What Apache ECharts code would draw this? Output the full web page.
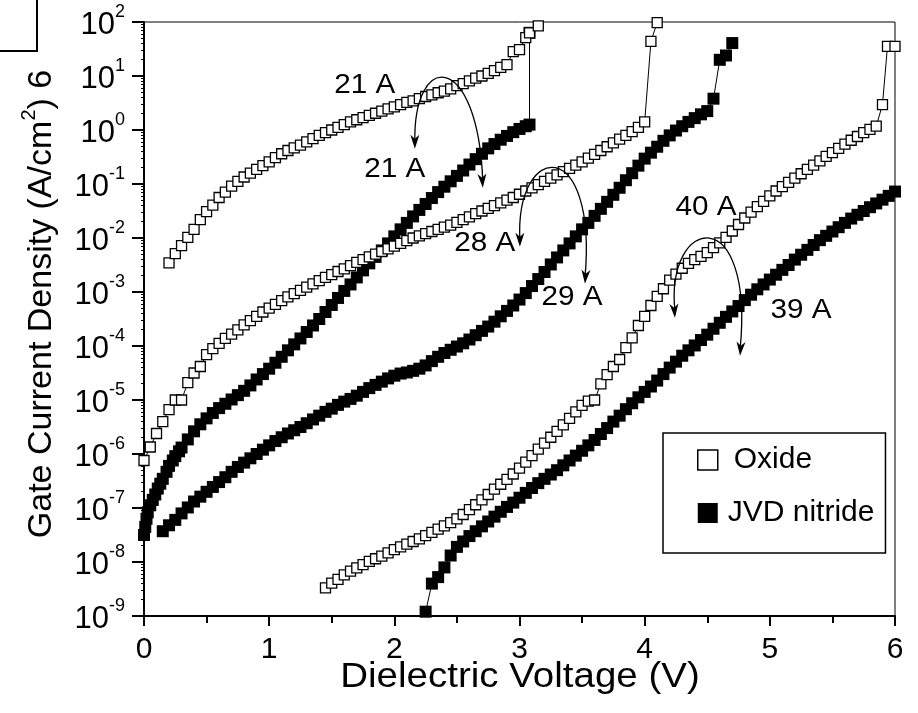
<!DOCTYPE html>
<html>
<head>
<meta charset="utf-8">
<script src="https://cdn.jsdelivr.net/npm/echarts@6/dist/echarts.min.js"></script>
<style>
html,body{margin:0;padding:0;background:#fff;}
#chart{width:918px;height:713px;}
</style>
</head>
<body>
<div id="chart"></div>
<script>
// Each point: [dielectric voltage (V), log10 of gate current density (A/cm^2)]
const oxide21A = [[0.20,-2.46],[0.25,-2.29],[0.30,-2.14],[0.35,-1.99],[0.40,-1.84],[0.45,-1.66],[0.50,-1.51],[0.55,-1.39],[0.60,-1.25],[0.65,-1.15],[0.70,-1.04],[0.75,-0.95],[0.80,-0.87],[0.85,-0.80],[0.90,-0.73],[0.95,-0.66],[1.00,-0.59],[1.05,-0.51],[1.10,-0.44],[1.15,-0.38],[1.20,-0.33],[1.25,-0.28],[1.30,-0.22],[1.35,-0.16],[1.40,-0.10],[1.45,-0.05],[1.50,0.00],[1.55,0.05],[1.60,0.10],[1.65,0.15],[1.70,0.19],[1.75,0.23],[1.80,0.27],[1.85,0.31],[1.90,0.35],[1.95,0.39],[2.00,0.43],[2.05,0.47],[2.10,0.51],[2.15,0.54],[2.20,0.58],[2.25,0.62],[2.30,0.65],[2.35,0.69],[2.40,0.72],[2.45,0.76],[2.50,0.82],[2.55,0.86],[2.60,0.91],[2.65,0.96],[2.70,1.00],[2.75,1.05],[2.80,1.10],[2.85,1.16],[2.90,1.21],[2.95,1.45],[3.00,1.49],[3.05,1.71],[3.08,1.80],[3.15,1.93]];
const oxide28A = [[0.00,-6.12],[0.05,-5.87],[0.10,-5.62],[0.15,-5.40],[0.20,-5.18],[0.25,-5.00],[0.30,-5.00],[0.35,-4.68],[0.40,-4.50],[0.45,-4.38],[0.50,-4.16],[0.55,-4.05],[0.60,-3.95],[0.65,-3.86],[0.70,-3.78],[0.75,-3.70],[0.80,-3.61],[0.85,-3.53],[0.90,-3.45],[0.95,-3.37],[1.00,-3.30],[1.05,-3.23],[1.10,-3.16],[1.15,-3.09],[1.20,-3.03],[1.25,-2.97],[1.30,-2.91],[1.35,-2.85],[1.40,-2.79],[1.45,-2.73],[1.50,-2.68],[1.55,-2.62],[1.60,-2.57],[1.65,-2.51],[1.70,-2.45],[1.75,-2.40],[1.80,-2.35],[1.85,-2.30],[1.90,-2.25],[1.95,-2.20],[2.00,-2.15],[2.05,-2.10],[2.10,-2.05],[2.15,-2.00],[2.20,-1.96],[2.25,-1.92],[2.30,-1.88],[2.35,-1.84],[2.40,-1.80],[2.45,-1.76],[2.50,-1.71],[2.55,-1.66],[2.60,-1.61],[2.65,-1.55],[2.70,-1.50],[2.75,-1.45],[2.80,-1.40],[2.85,-1.35],[2.90,-1.30],[2.95,-1.25],[3.00,-1.19],[3.05,-1.13],[3.10,-1.07],[3.15,-1.01],[3.20,-0.95],[3.25,-0.89],[3.30,-0.83],[3.35,-0.77],[3.40,-0.71],[3.45,-0.65],[3.50,-0.59],[3.55,-0.52],[3.60,-0.45],[3.65,-0.38],[3.70,-0.31],[3.75,-0.24],[3.80,-0.17],[3.85,-0.10],[3.90,-0.03],[3.95,0.05],[4.00,0.15],[4.05,1.64],[4.10,1.99]];
const oxide40A = [[1.45,-8.48],[1.50,-8.39],[1.55,-8.32],[1.60,-8.24],[1.65,-8.17],[1.70,-8.11],[1.75,-8.05],[1.80,-7.99],[1.85,-7.94],[1.90,-7.89],[1.95,-7.83],[2.00,-7.77],[2.05,-7.72],[2.10,-7.67],[2.15,-7.62],[2.20,-7.57],[2.25,-7.51],[2.30,-7.45],[2.35,-7.39],[2.40,-7.33],[2.45,-7.27],[2.50,-7.20],[2.55,-7.12],[2.60,-7.03],[2.65,-6.94],[2.70,-6.85],[2.75,-6.75],[2.80,-6.65],[2.85,-6.56],[2.90,-6.47],[2.95,-6.37],[3.00,-6.26],[3.05,-6.15],[3.10,-6.03],[3.15,-5.91],[3.20,-5.80],[3.25,-5.69],[3.30,-5.58],[3.35,-5.46],[3.40,-5.34],[3.45,-5.22],[3.50,-5.10],[3.55,-5.02],[3.60,-5.00],[3.65,-4.70],[3.70,-4.53],[3.75,-4.38],[3.80,-4.25],[3.85,-4.03],[3.90,-3.85],[3.95,-3.62],[4.00,-3.45],[4.05,-3.25],[4.10,-3.08],[4.15,-2.94],[4.20,-2.78],[4.25,-2.67],[4.30,-2.56],[4.35,-2.47],[4.40,-2.40],[4.45,-2.34],[4.50,-2.27],[4.55,-2.18],[4.60,-2.09],[4.65,-1.99],[4.70,-1.87],[4.75,-1.75],[4.80,-1.63],[4.85,-1.52],[4.90,-1.42],[4.95,-1.32],[5.00,-1.22],[5.05,-1.13],[5.10,-1.05],[5.15,-0.97],[5.20,-0.89],[5.25,-0.81],[5.30,-0.73],[5.35,-0.65],[5.40,-0.57],[5.45,-0.49],[5.50,-0.42],[5.55,-0.34],[5.60,-0.26],[5.65,-0.19],[5.70,-0.12],[5.75,-0.05],[5.80,0.01],[5.85,0.07],[5.90,0.47],[5.94,1.55],[6.00,1.55]];
const nitride21A = [[0.00,-7.50],[0.01,-7.35],[0.02,-7.20],[0.03,-7.08],[0.05,-6.95],[0.07,-6.85],[0.09,-6.75],[0.11,-6.64],[0.13,-6.55],[0.15,-6.46],[0.18,-6.33],[0.20,-6.22],[0.23,-6.12],[0.25,-6.04],[0.28,-5.95],[0.30,-5.88],[0.35,-5.73],[0.40,-5.58],[0.45,-5.45],[0.50,-5.34],[0.55,-5.24],[0.60,-5.15],[0.65,-5.07],[0.70,-4.99],[0.75,-4.91],[0.80,-4.83],[0.85,-4.73],[0.90,-4.62],[0.95,-4.52],[1.00,-4.42],[1.05,-4.31],[1.10,-4.20],[1.15,-4.08],[1.20,-3.97],[1.25,-3.86],[1.30,-3.74],[1.35,-3.62],[1.40,-3.50],[1.45,-3.37],[1.50,-3.24],[1.55,-3.11],[1.60,-2.98],[1.65,-2.86],[1.70,-2.73],[1.75,-2.60],[1.80,-2.47],[1.85,-2.35],[1.90,-2.23],[1.95,-2.10],[2.00,-1.97],[2.05,-1.84],[2.10,-1.72],[2.15,-1.60],[2.20,-1.48],[2.25,-1.37],[2.30,-1.26],[2.35,-1.15],[2.40,-1.05],[2.45,-0.95],[2.50,-0.85],[2.55,-0.75],[2.60,-0.64],[2.65,-0.54],[2.70,-0.44],[2.75,-0.34],[2.80,-0.26],[2.85,-0.18],[2.90,-0.11],[2.95,-0.04],[3.00,0.02],[3.05,0.07],[3.08,0.10],[3.08,1.80]];
const nitride29A = [[0.15,-7.43],[0.20,-7.32],[0.25,-7.22],[0.30,-7.10],[0.35,-6.99],[0.40,-6.88],[0.45,-6.79],[0.50,-6.70],[0.55,-6.61],[0.60,-6.52],[0.65,-6.43],[0.70,-6.33],[0.75,-6.24],[0.80,-6.16],[0.85,-6.08],[0.90,-6.00],[0.95,-5.92],[1.00,-5.84],[1.05,-5.76],[1.10,-5.69],[1.15,-5.62],[1.20,-5.56],[1.25,-5.50],[1.30,-5.43],[1.35,-5.36],[1.40,-5.29],[1.45,-5.22],[1.50,-5.16],[1.55,-5.09],[1.60,-5.03],[1.65,-4.98],[1.70,-4.92],[1.75,-4.85],[1.80,-4.78],[1.85,-4.72],[1.90,-4.66],[1.95,-4.60],[2.00,-4.55],[2.05,-4.51],[2.10,-4.49],[2.15,-4.46],[2.20,-4.42],[2.25,-4.36],[2.30,-4.28],[2.35,-4.20],[2.40,-4.13],[2.45,-4.07],[2.50,-4.01],[2.55,-3.95],[2.60,-3.88],[2.65,-3.80],[2.70,-3.72],[2.75,-3.64],[2.80,-3.55],[2.85,-3.45],[2.90,-3.35],[2.95,-3.25],[3.00,-3.14],[3.05,-3.02],[3.10,-2.89],[3.15,-2.76],[3.20,-2.63],[3.25,-2.49],[3.30,-2.36],[3.35,-2.23],[3.40,-2.10],[3.45,-1.97],[3.50,-1.84],[3.55,-1.72],[3.60,-1.59],[3.65,-1.46],[3.70,-1.33],[3.75,-1.20],[3.80,-1.07],[3.85,-0.93],[3.90,-0.80],[3.95,-0.66],[4.00,-0.53],[4.05,-0.42],[4.10,-0.31],[4.15,-0.20],[4.20,-0.10],[4.25,-0.01],[4.30,0.07],[4.35,0.15],[4.40,0.22],[4.45,0.29],[4.50,0.35],[4.55,0.58],[4.60,1.30],[4.65,1.38],[4.70,1.61]];
const nitride39A = [[2.25,-8.92],[2.30,-8.40],[2.35,-8.28],[2.40,-8.10],[2.45,-7.88],[2.50,-7.72],[2.55,-7.62],[2.60,-7.52],[2.65,-7.43],[2.70,-7.34],[2.75,-7.25],[2.80,-7.16],[2.85,-7.07],[2.90,-6.98],[2.95,-6.90],[3.00,-6.81],[3.05,-6.72],[3.10,-6.63],[3.15,-6.54],[3.20,-6.46],[3.25,-6.38],[3.30,-6.30],[3.35,-6.21],[3.40,-6.12],[3.45,-6.03],[3.50,-5.94],[3.55,-5.84],[3.60,-5.74],[3.65,-5.63],[3.70,-5.52],[3.75,-5.40],[3.80,-5.29],[3.85,-5.17],[3.90,-5.06],[3.95,-4.95],[4.00,-4.85],[4.05,-4.75],[4.10,-4.64],[4.15,-4.52],[4.20,-4.40],[4.25,-4.29],[4.30,-4.18],[4.35,-4.08],[4.40,-3.99],[4.45,-3.89],[4.50,-3.79],[4.55,-3.68],[4.60,-3.57],[4.65,-3.46],[4.70,-3.36],[4.75,-3.26],[4.80,-3.15],[4.85,-3.05],[4.90,-2.95],[4.95,-2.86],[5.00,-2.77],[5.05,-2.68],[5.10,-2.59],[5.15,-2.50],[5.20,-2.40],[5.25,-2.31],[5.30,-2.22],[5.35,-2.13],[5.40,-2.04],[5.45,-1.96],[5.50,-1.88],[5.55,-1.80],[5.60,-1.72],[5.65,-1.64],[5.70,-1.57],[5.75,-1.50],[5.80,-1.43],[5.85,-1.36],[5.90,-1.29],[5.95,-1.22],[6.00,-1.14]];

const xTicks = [0, 1, 2, 3, 4, 5, 6];
const yExponents = [-9, -8, -7, -6, -5, -4, -3, -2, -1, 0, 1, 2];
const xTitle = 'Dielectric Voltage (V)';
const legendNames = ['Oxide', 'JVD nitride'];

// thickness labels, positions in data coords [V, log10 J]
const thicknessLabels = [
  ['21 A', 1.764, 0.82], ['21 A', 2.004, -0.735],
  ['28 A', 2.723, -2.106], ['29 A', 3.419, -3.106],
  ['40 A', 4.49, -1.439], ['39 A', 5.249, -3.346]
];
// curved arrows: [start, ctrl1, ctrl2, end, tipStart, tipEnd] in data coords [V, log10 J]
const arrows = [
  [[2.164,-0.106],[2.148,1.487],[2.667,1.487],[2.700,-0.828],[2.164,-0.346],[2.707,-1.069]],
  [[3.003,-1.920],[2.963,-0.180],[3.627,-0.087],[3.531,-2.587],[3.003,-2.161],[3.523,-2.846]],
  [[4.234,-3.235],[4.162,-1.569],[4.882,-1.291],[4.770,-3.920],[4.242,-3.476],[4.762,-4.180]]
];

const FONT = '"Liberation Sans", Arial, Helvetica, sans-serif';
const toData = arr => arr.map(p => [p[0], Math.pow(10, p[1])]);

function mkSeries(name, pts, hollow) {
  return {
    type: 'line', name: name, data: toData(pts),
    symbol: 'rect', symbolSize: hollow ? 10 : 12, showAllSymbol: true, clip: false,
    lineStyle: { color: '#000', width: 1 },
    itemStyle: hollow ? { color: '#fff', borderColor: '#000', borderWidth: 1.3 } : { color: '#000', borderColor: '#000', borderWidth: 0 },
    emphasis: { disabled: true }, animation: false
  };
}

const chart = echarts.init(document.getElementById('chart'), null, { renderer: 'canvas' });
chart.setOption({
  animation: false,
  backgroundColor: '#fff',
  grid: { left: 144, right: 23, top: 22, bottom: 97, show: true, borderColor: '#000', borderWidth: 1 },
  xAxis: {
    type: 'value', min: 0, max: 6, interval: 1,
    axisLine: { show: true, lineStyle: { color: '#000', width: 2 } },
    axisTick: { show: true, length: 10, lineStyle: { color: '#000', width: 2 } },
    minorTick: { show: true, splitNumber: 2, length: 7, lineStyle: { color: '#000', width: 2 } },
    splitLine: { show: false },
    axisLabel: { fontSize: 30, color: '#000', fontFamily: FONT, margin: 19,
      formatter: v => xTicks.indexOf(v) >= 0 ? String(v) : '' }
  },
  yAxis: {
    type: 'log', logBase: 10, min: 1e-9, max: 1e2, interval: 1, splitNumber: 11,
    axisLine: { show: true, lineStyle: { color: '#000', width: 2 } },
    axisTick: { show: true, length: 12, lineStyle: { color: '#000', width: 2 } },
    minorTick: { show: true, splitNumber: 9, length: 3, lineStyle: { color: '#000', width: 1 } },
    splitLine: { show: false },
    axisLabel: {
      margin: 19, color: '#000', fontFamily: FONT, interval: 0,
      formatter: v => {
        const e = Math.round(Math.log10(v));
        return yExponents.indexOf(e) >= 0 ? '{b|10}{s|' + e + '}' : '';
      },
      rich: {
        b: { fontSize: 31, lineHeight: 38, verticalAlign: 'bottom', fontFamily: FONT, color: '#000' },
        s: { fontSize: 18, lineHeight: 18, verticalAlign: 'top', fontFamily: FONT, color: '#000' }
      }
    }
  },
  legend: {
    left: 663, top: 433, orient: 'vertical',
    padding: [12, 11, 25, 34], itemGap: 23, itemWidth: 20, itemHeight: 20,
    borderColor: '#000', borderWidth: 1.5, borderRadius: 0,
    selectedMode: false,
    textStyle: { fontSize: 30, color: '#000', fontFamily: FONT },
    data: [
      { name: legendNames[0], icon: 'rect', itemStyle: { color: '#fff', borderColor: '#000', borderWidth: 1.5 },
        textStyle: { padding: [0, 0, 0, 11] } },
      { name: legendNames[1], icon: 'rect', itemStyle: { color: '#000', borderWidth: 0 },
        textStyle: { padding: [0, 0, 0, 5] } }
    ]
  },
  series: [
    mkSeries(legendNames[1], nitride21A, false),
    mkSeries(legendNames[1], nitride29A, false),
    mkSeries(legendNames[1], nitride39A, false),
    mkSeries(legendNames[0], oxide21A, true),
    mkSeries(legendNames[0], oxide28A, true),
    mkSeries(legendNames[0], oxide40A, true)
  ]
});

function px(p) { return chart.convertToPixel({ gridIndex: 0 }, [p[0], Math.pow(10, p[1])]); }

const g = [];
// partial frame cut off at top-left corner of the figure
g.push({ type: 'rect', shape: { x: -10, y: -10, width: 47, height: 61 }, style: { fill: null, stroke: '#000', lineWidth: 2 }, z: 100 });
// y-axis title
g.push({ type: 'text', x: 39, y: 304, rotation: Math.PI / 2, z: 100,
  style: { text: '{a|Gate Current Density (A/cm}{s|2}{a|) 6}', align: 'center', verticalAlign: 'middle',
    rich: { a: { fontSize: 34, fontFamily: FONT, fill: '#000', verticalAlign: 'bottom', lineHeight: 40 },
            s: { fontSize: 20, fontFamily: FONT, fill: '#000', verticalAlign: 'top', lineHeight: 20 } } } });
// x-axis title
g.push({ type: 'text', x: 520, y: 677, scaleX: 1.1, z: 100,
  style: { text: xTitle, fontSize: 35, fontFamily: FONT, fill: '#000', align: 'center', verticalAlign: 'middle' } });

thicknessLabels.forEach(t => {
  const p = px([t[1], t[2]]);
  g.push({ type: 'text', x: p[0], y: p[1], scaleX: 1.1, z: 100,
    style: { text: t[0], fontSize: 27, fontFamily: FONT, fill: '#000', align: 'center', verticalAlign: 'middle' } });
});

function head(from, tip) {
  const dx = tip[0] - from[0], dy = tip[1] - from[1];
  const len = Math.sqrt(dx * dx + dy * dy) || 1;
  const ux = dx / len, uy = dy / len;
  const L = 14, W = 4.5;
  const bx = tip[0] - ux * L, by = tip[1] - uy * L;
  return [[tip[0], tip[1]], [bx - uy * W, by + ux * W], [tip[0] - ux * (L - 4), tip[1] - uy * (L - 4)], [bx + uy * W, by - ux * W]];
}
arrows.forEach(a => {
  const s = px(a[0]), c1 = px(a[1]), c2 = px(a[2]), e = px(a[3]), t1 = px(a[4]), t2 = px(a[5]);
  g.push({ type: 'bezierCurve', z: 100,
    shape: { x1: t1[0], y1: t1[1] - 6, cpx1: c1[0], cpy1: c1[1], cpx2: c2[0], cpy2: c2[1], x2: t2[0], y2: t2[1] - 6 },
    style: { stroke: '#000', lineWidth: 1.3, fill: null } });
  g.push({ type: 'polygon', z: 101, shape: { points: head(s, t1) }, style: { fill: '#000' } });
  g.push({ type: 'polygon', z: 101, shape: { points: head(e, t2) }, style: { fill: '#000' } });
});
chart.setOption({ graphic: g });
</script>
</body>
</html>
